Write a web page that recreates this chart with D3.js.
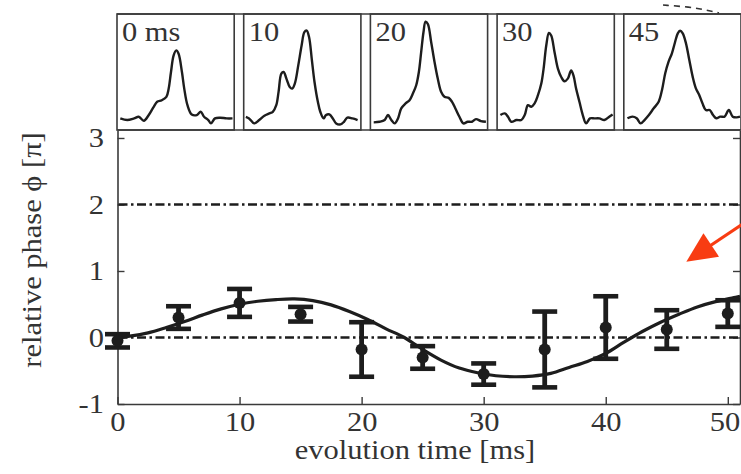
<!DOCTYPE html>
<html>
<head>
<meta charset="utf-8">
<script src="https://cdn.jsdelivr.net/npm/d3@7"></script>
<style>
  html, body { margin: 0; padding: 0; background: #fff; }
  svg { display: block; }
  svg text { font-family: "Liberation Serif", "Times New Roman", Times, serif !important; fill: #333; }
</style>
</head>
<body>
<svg id="chart" width="741" height="474"></svg>
<script>
// ---- measured phase vs. evolution time ----
const times = [0, 5, 10, 15, 20, 25, 30, 35, 40, 45, 50];
const phase = [-0.05, 0.3, 0.52, 0.35, -0.18, -0.3, -0.55, -0.18, 0.15, 0.12, 0.36];
const phaseErr = [0.1, 0.17, 0.21, 0.11, 0.41, 0.17, 0.16, 0.57, 0.47, 0.29, 0.2];

// ---- fitted curve (sampled) ----
const fitT = [0, 1, 2.5, 4, 5.5, 7, 8.5, 10, 11.5, 13, 14.5, 16, 17.5, 19, 20.5, 22, 23.5, 25, 26.5, 28,
              29.5, 31, 32.5, 34, 35.5, 37, 38.5, 40, 41.5, 43, 44.5, 46, 47.5, 49, 50.5, 51];
const fitPhase = [0, 0.02, 0.07, 0.15, 0.24, 0.34, 0.43, 0.5, 0.545, 0.57, 0.58, 0.555, 0.49, 0.39, 0.27, 0.13, 0.0, -0.18, -0.34, -0.46,
                  -0.53, -0.575, -0.59, -0.58, -0.54, -0.45, -0.36, -0.24, -0.07, 0.09, 0.23, 0.35, 0.46, 0.54, 0.6, 0.62];

// ---- reference phase levels ----
const refLevels = [0, 2];

// ---- axis ticks ----
const xTicks = [0, 10, 20, 30, 40, 50];
const yTicks = [-1, 0, 1, 2, 3];
const tickLabel = d => String(d);

// ---- density profiles shown above the plot (position, intensity in a.u.) ----
const insetLabels = ["0 ms", "10", "20", "30", "45"];
const profile0 = [[2,10],[8,8.6],[14,10],[18,11.4],[22.4,8],[26.7,12.9],[31,20],[34,24.3],[38,25.7],[42,28.6],[44,35.7],[46,50],[48.3,64.3],
  [50.6,68.6],[52.6,65.7],[55.5,50],[57.5,35.7],[60.3,21.4],[64,13.4],[68.4,12.9],[71.8,15.7],[74.7,11.4],[78.4,8.6],[80.7,5.7],[84.2,10],[88.5,10.6],[94.3,10],[99.4,10]];
const profile10 = [[1,11.4],[3.8,10],[8.2,5.7],[12.6,8.6],[17.1,12.3],[21.5,14.3],[24.4,15.7],[27.4,21.4],[29.4,32.9],[31.8,48.6],[33.8,50],[36.2,44.3],
  [39.1,37.1],[41.2,35.7],[43.5,40],[46.5,55.7],[49.4,72.9],[51.8,84.3],[53.8,85.7],[55.9,80],[58.2,61.4],[60.6,41.4],[63.5,24.3],[65.6,15.7],[68.5,10],
  [70.6,12.9],[73.5,13.4],[76.5,10],[79.4,5.7],[83.2,4.9],[86.2,7.1],[89.1,10.6],[93.5,10],[98,8.6]];
const profile20 = [[2,6.6],[7.2,7.1],[11.5,8.6],[14.4,12.9],[17.3,8.6],[20.2,5.7],[23.1,10],[25.9,18.6],[29.7,22.9],[33.1,25.7],[36,31.4],[38.9,38.6],
  [41.2,50],[43.2,67.1],[45.2,84.3],[47,93.4],[49,91.4],[51.9,75.7],[54.8,58.6],[57.6,44.3],[60.5,32.9],[63.4,28.6],[67.1,27.7],[70,24.3],[72.9,18.6],
  [76.4,11.4],[79.8,5.7],[83.6,7.1],[87.3,7.1],[90.8,9.4],[95.1,7.7],[99.4,7.1]];
const profile30 = [[2,12.9],[5.8,14.3],[8.6,11.4],[11.5,7.1],[15.9,8.6],[20.2,8.6],[23.1,12.9],[25.9,21.4],[28.8,20],[31.7,22.9],[34.6,30],[37.5,40],
  [39.5,52.9],[41.8,72.9],[44.1,83.7],[46.1,81.4],[49,67.1],[51.9,52.9],[54.8,45.7],[57.6,42],[60.5,44.3],[63.4,51.4],[65.4,47.1],[67.7,35.7],[70.6,24.3],
  [73.5,12.9],[76.4,5.7],[79.8,10],[83.6,10],[87.9,10],[92.2,8.6],[96.5,11.4],[99.4,13.4]];
const profile45 = [[2.3,10.1],[6.6,11.5],[10.3,10.1],[13.7,5.7],[17.1,8.6],[20.9,12.9],[25.1,18.7],[29.4,24.4],[32.3,34.5],[35.1,48.9],[38,58.9],
  [40.9,66.1],[43.7,76.1],[46,83.3],[48,85.6],[50.3,83.3],[53.1,74.7],[56,60.3],[58.9,46],[61.7,35.9],[64.6,30.2],[67.4,23],[70.3,17.2],[73.7,17.2],
  [76.6,12.9],[79.4,10.1],[82.9,11.5],[86.6,11.5],[90.3,17.2],[93.7,11.5],[97.1,10.9],[100,11.5]];
const profiles = [profile0, profile10, profile20, profile30, profile45];

const svg = d3.select("#chart");
svg.append("rect").attr("width", 741).attr("height", 474).attr("fill", "#fff");

const ink = "#1d1d1d";
const frame = "#3a3a3a";
const serif = '"Liberation Serif", "Times New Roman", Times, serif';
const fontPx = 27;
const widen = 1.13;   // slightly wide typeface

// ---- main plot scales ----
const x = d3.scaleLinear().domain([0, 51]).range([117.5, 740]);
const y = d3.scaleLinear().domain([-1, 3.12]).range([404, 130]);

// frame: top border
svg.append("line").attr("x1", x(0)).attr("x2", x(51)).attr("y1", y(3.12)).attr("y2", y(3.12))
  .attr("stroke", frame).attr("stroke-width", 1.6);

// axes with inward ticks
const axisStyle = g => {
  g.attr("font-family", serif).attr("font-size", fontPx);
  g.select(".domain").attr("stroke", frame).attr("stroke-width", 1.6);
  g.selectAll(".tick line").attr("stroke", frame).attr("stroke-width", 1.4);
  g.selectAll(".tick text").style("font-size", fontPx + "px").attr("fill", "#333")
    .attr("transform", `scale(${widen},1)`);
};

const xAxis = svg.append("g").attr("transform", `translate(0,${y(-1)})`)
  .call(d3.axisBottom(x).tickValues(xTicks).tickFormat(tickLabel).tickSizeInner(-7).tickSizeOuter(0).tickPadding(8))
  .call(axisStyle);
// keep the last label inside the page
xAxis.selectAll(".tick text").filter(d => d === 50).attr("dx", -3);

svg.append("g").attr("transform", `translate(${x(0)},0)`)
  .call(d3.axisLeft(y).tickValues(yTicks).tickFormat(tickLabel).tickSizeInner(-7).tickSizeOuter(0).tickPadding(12))
  .call(axisStyle);

svg.append("g").attr("transform", `translate(${x(51)},0)`)
  .call(d3.axisRight(y).tickValues(yTicks).tickSizeInner(-7).tickSizeOuter(0).tickFormat(""))
  .call(axisStyle);

// axis titles
svg.append("text").attr("transform", `translate(415,459) scale(${widen},1)`).attr("text-anchor", "middle")
  .style("font-size", fontPx + "px").text("evolution time [ms]");
svg.append("text").attr("transform", `translate(41,250) rotate(-90) scale(${widen},1)`).attr("text-anchor", "middle")
  .style("font-size", fontPx + "px").text("relative phase \u03d5 [\u03c0]");

// dash-dot reference levels
svg.append("g").selectAll("line").data(refLevels).join("line")
  .attr("x1", x(0) + 1).attr("x2", x(51))
  .attr("y1", d => y(d)).attr("y2", d => y(d))
  .attr("stroke", ink).attr("stroke-width", 2.6)
  .attr("stroke-dasharray", "9,3.5,2.5,3.5");

// fitted curve
const fit = fitT.map((t, i) => [t, fitPhase[i]]);
svg.append("path").datum(fit)
  .attr("fill", "none").attr("stroke", ink).attr("stroke-width", 3.2)
  .attr("d", d3.line().x(d => x(d[0])).y(d => y(d[1])).curve(d3.curveCatmullRom));

// error bars and points
const pts = times.map((t, i) => ({ t, v: phase[i], e: phaseErr[i] }));
const bars = svg.append("g").selectAll("g").data(pts).join("g");
bars.append("line")
  .attr("x1", d => x(d.t)).attr("x2", d => x(d.t))
  .attr("y1", d => y(d.v + d.e)).attr("y2", d => y(d.v - d.e))
  .attr("stroke", ink).attr("stroke-width", 4.8);
[1, -1].forEach(s => {
  bars.append("line")
    .attr("x1", d => x(d.t) - 12.5).attr("x2", d => x(d.t) + 12.5)
    .attr("y1", d => y(d.v + s * d.e)).attr("y2", d => y(d.v + s * d.e))
    .attr("stroke", ink).attr("stroke-width", 4.6);
});
bars.append("circle").attr("cx", d => x(d.t)).attr("cy", d => y(d.v)).attr("r", 6).attr("fill", ink);

// annotation arrow
const arrowTail = [51.9, 1.79], arrowTip = [46.6, 1.14];
const ax1 = x(arrowTail[0]), ay1 = y(arrowTail[1]), ax2 = x(arrowTip[0]), ay2 = y(arrowTip[1]);
const ang = Math.atan2(ay2 - ay1, ax2 - ax1);
const headLen = 30, headHalf = 14;
const bx = ax2 - headLen * Math.cos(ang), by = ay2 - headLen * Math.sin(ang);
const red = "#f83c12";
svg.append("line").attr("x1", ax1).attr("y1", ay1).attr("x2", bx + 4 * Math.cos(ang)).attr("y2", by + 4 * Math.sin(ang))
  .attr("stroke", red).attr("stroke-width", 3.2);
svg.append("path").attr("fill", red)
  .attr("d", `M${ax2},${ay2}L${bx - headHalf * Math.sin(ang)},${by + headHalf * Math.cos(ang)}L${bx + headHalf * Math.sin(ang)},${by - headHalf * Math.cos(ang)}Z`);

// ---- density profile strip ----
const stripTop = 14, stripBottom = 130;
const band = d3.scaleBand().domain(insetLabels).range([117, 741]).paddingInner(0.075);
const px = d3.scaleLinear().domain([0, 100]).range([1, band.bandwidth() - 1]);
const py = d3.scaleLinear().domain([0, 100]).range([stripBottom - stripTop, 0]);

svg.append("line").attr("x1", 117).attr("x2", 741).attr("y1", stripTop).attr("y2", stripTop)
  .attr("stroke", frame).attr("stroke-width", 1.6);

const insets = svg.append("g").selectAll("g").data(insetLabels).join("g")
  .attr("transform", d => `translate(${band(d)},${stripTop})`);
insets.append("rect").attr("width", band.bandwidth()).attr("height", stripBottom - stripTop)
  .attr("fill", "none").attr("stroke", frame).attr("stroke-width", 1.6);
insets.append("path").datum((d, i) => profiles[i])
  .attr("fill", "none").attr("stroke", ink).attr("stroke-width", 2.4).attr("stroke-linejoin", "round")
  .attr("d", d3.line().x(p => px(p[0])).y(p => py(p[1])).curve(d3.curveCatmullRom));
insets.append("text").attr("transform", `translate(5,27) scale(${widen},1)`)
  .style("font-size", fontPx + "px").attr("fill", "#333").text(d => d);

// fragment of a trace from above the strip
svg.append("path").attr("fill", "none").attr("stroke", "#333").attr("stroke-width", 1.6)
  .attr("stroke-dasharray", "6,5")
  .attr("d", d3.line().curve(d3.curveBasis)([[663, 5], [690, 7], [706, 10], [719, 13]]));
</script>
</body>
</html>
